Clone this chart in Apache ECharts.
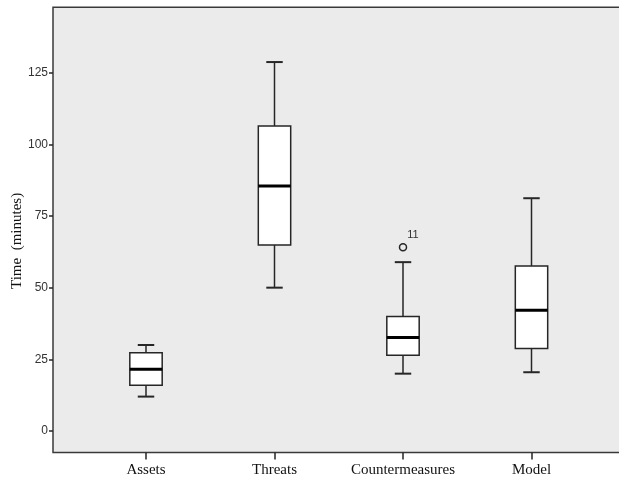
<!DOCTYPE html>
<html>
<head>
<meta charset="utf-8">
<script src="https://cdn.jsdelivr.net/npm/echarts@6/dist/echarts.min.js"></script>
<style>html,body{margin:0;padding:0;background:#fff;}#c{width:619px;height:482px;}</style>
</head>
<body>
<div id="c"></div>
<script>
// Data
var categories = ['Assets', 'Threats', 'Countermeasures', 'Model'];
var whiskerLow = [12.0, 50.0, 20.0, 20.5];
var q1 = [16.0, 64.9, 26.4, 28.8];
var median = [21.5, 85.5, 32.6, 42.1];
var q3 = [27.3, 106.4, 39.9, 57.6];
var whiskerHigh = [30.0, 128.7, 58.9, 81.2];
var outlierCategory = ['Countermeasures'];
var outlierValue = [64.1];
var outlierLabel = ['11'];
var yTicks = [0, 25, 50, 75, 100, 125];

var boxData = categories.map(function (c, i) {
  return [i, whiskerLow[i], q1[i], median[i], q3[i], whiskerHigh[i]];
});
var outData = outlierValue.map(function (v, i) {
  return { value: [categories.indexOf(outlierCategory[i]), v], name: outlierLabel[i] };
});

var dark = '#262626';

function renderBox(params, api) {
  var idx = api.value(0);
  var pLow = api.coord([idx, api.value(1)]);
  var pQ1 = api.coord([idx, api.value(2)]);
  var pMed = api.coord([idx, api.value(3)]);
  var pQ3 = api.coord([idx, api.value(4)]);
  var pHigh = api.coord([idx, api.value(5)]);
  var band = api.size([1, 0])[0];
  var hw = band * 0.126;
  var cw = band * 0.064;
  var x = pMed[0];
  var ls = { stroke: dark, lineWidth: 1.5 };
  return {
    type: 'group',
    children: [
      { type: 'line', shape: { x1: x, y1: pHigh[1], x2: x, y2: pQ3[1] }, style: ls },
      { type: 'line', shape: { x1: x, y1: pQ1[1], x2: x, y2: pLow[1] }, style: ls },
      { type: 'line', shape: { x1: x - cw, y1: pHigh[1], x2: x + cw, y2: pHigh[1] }, style: { stroke: dark, lineWidth: 2 } },
      { type: 'line', shape: { x1: x - cw, y1: pLow[1], x2: x + cw, y2: pLow[1] }, style: { stroke: dark, lineWidth: 2 } },
      { type: 'rect', shape: { x: x - hw, y: pQ3[1], width: hw * 2, height: pQ1[1] - pQ3[1] }, style: { fill: '#ffffff', stroke: dark, lineWidth: 1.5 } },
      { type: 'line', shape: { x1: x - hw, y1: pMed[1], x2: x + hw, y2: pMed[1] }, style: { stroke: '#000', lineWidth: 3 } }
    ]
  };
}

var chart = echarts.init(document.getElementById('c'), null, { renderer: 'canvas' });
chart.setOption({
  animation: false,
  backgroundColor: '#ffffff',
  grid: [
    { left: 53, top: 7.3, right: -5, bottom: 29.5, show: true, backgroundColor: '#ebebeb', borderColor: '#3a3a3a', borderWidth: 1.5, containLabel: false, outerBoundsMode: 'none' },
    { left: 81.75, width: 514, top: 7.3, bottom: 29.5, containLabel: false, outerBoundsMode: 'none' }
  ],
  xAxis: [
    { gridIndex: 0, type: 'value', show: false, min: 0, max: 1 },
    {
      gridIndex: 1, type: 'category', data: categories, boundaryGap: true, position: 'bottom',
      axisLine: { show: false, onZero: false },
      axisTick: { show: true, interval: 0, alignWithLabel: true, length: 7, lineStyle: { color: dark, width: 1.5 } },
      axisLabel: { interval: 0, margin: 10, color: '#111', fontFamily: 'Liberation Serif', fontSize: 15 },
      splitLine: { show: false }
    }
  ],
  yAxis: [
    { gridIndex: 0, type: 'value', show: false, min: 0, max: 1 },
    {
      gridIndex: 1, type: 'value', min: -7.5, max: 147.8, offset: 28.75, position: 'left',
      name: 'Time  (minutes)', nameLocation: 'middle', nameGap: 28, nameMoveOverlap: false,
      nameTextStyle: { fontFamily: 'Liberation Serif', fontSize: 15, color: '#111', padding: [0, 0, 0, -22] },
      axisLine: { show: false, onZero: false },
      axisTick: { show: true, length: 4, customValues: yTicks, lineStyle: { color: dark, width: 1.5 } },
      axisLabel: { customValues: yTicks, margin: 5, color: '#333', fontFamily: 'Liberation Sans', fontSize: 12 },
      splitLine: { show: false }
    }
  ],
  series: [
    {
      type: 'custom', xAxisIndex: 1, yAxisIndex: 1,
      renderItem: renderBox, data: boxData, encode: { x: 0, y: [1, 2, 3, 4, 5] }, z: 3
    },
    {
      type: 'scatter', xAxisIndex: 1, yAxisIndex: 1, data: outData,
      symbol: 'circle', symbolSize: 7,
      itemStyle: { color: 'rgba(0,0,0,0)', borderColor: dark, borderWidth: 1.5, opacity: 1 },
      label: { show: true, formatter: '{b}', position: 'top', offset: [10, 2], color: '#333', fontFamily: 'Liberation Sans', fontSize: 11 },
      z: 4
    }
  ]
});
</script>
</body>
</html>
